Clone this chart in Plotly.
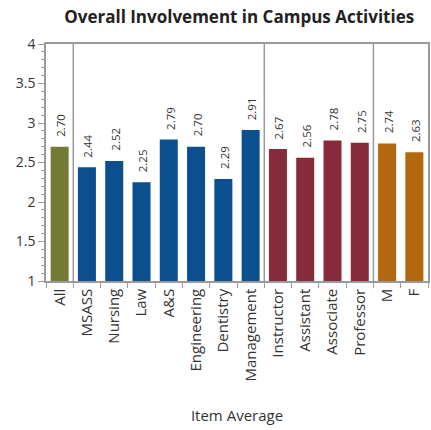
import plotly.graph_objects as go

categories = ["All", "MSASS", "Nursing", "Law", "A&S", "Engineering", "Dentistry",
              "Management", "Instructor", "Assistant", "Associate", "Professor", "M", "F"]
values = [2.70, 2.44, 2.52, 2.25, 2.79, 2.70, 2.29, 2.91, 2.67, 2.56, 2.78, 2.75, 2.74, 2.63]
groups = ["all"] + ["school"] * 7 + ["rank"] * 4 + ["gender"] * 2
group_colors = {"all": "#737b36", "school": "#0b4f8f", "rank": "#872b3b", "gender": "#b3670f"}
colors = [group_colors[g] for g in groups]
labels = [f"{v:.2f}" for v in values]

fig = go.Figure()
fig.add_trace(go.Bar(
    x=categories, y=values, marker=dict(color=colors, line=dict(width=0)),
    width=0.66, showlegend=False, hoverinfo="x+y",
))

for c, v, t in zip(categories, values, labels):
    fig.add_annotation(x=c, y=v, text=t, textangle=-90, showarrow=False,
                       yanchor="bottom", yshift=8, xshift=1,
                       font=dict(family="Open Sans", size=11.5, color="#333333"))

# group separators (between categories)
sep_positions = [0.5, 7.5, 11.5]
for s in sep_positions:
    fig.add_shape(type="line", xref="x", yref="paper", x0=s, x1=s, y0=0, y1=1,
                  line=dict(color="#9a9a9a", width=1.5))

fig.update_layout(
    width=431, height=430, autosize=False,
    margin=dict(l=46, r=1, t=44, b=149),
    paper_bgcolor="white", plot_bgcolor="white",
    title=dict(text="<b>Overall Involvement in Campus Activities</b>", x=0.555, xanchor="center",
               y=0.96, yanchor="middle",
               font=dict(family="Open Sans", size=17, color="#222222")),
    font=dict(family="Open Sans", color="#333333"),
)
fig.update_xaxes(
    type="category", showline=True, linecolor="#9a9a9a", linewidth=1.5, mirror=True,
    ticks="outside", tickson="boundaries", ticklen=5, tickcolor="#9a9a9a",
    tickangle=-90, tickfont=dict(family="Open Sans", size=15, color="#333333"),
    showgrid=False, range=[-0.5, 13.5],
    title=dict(text="Item Average", font=dict(family="Open Sans", size=15, color="#333333"), standoff=30),
)
fig.update_yaxes(
    range=[1, 4], dtick=0.5, showline=True, linecolor="#9a9a9a", linewidth=1.5, mirror=True,
    ticks="outside", ticklen=6, tickcolor="#9a9a9a",
    minor=dict(dtick=0.1, ticks="outside", ticklen=3, tickcolor="#9a9a9a"),
    tickfont=dict(family="Open Sans", size=14, color="#333333"),
    showgrid=False, zeroline=False,
)

fig.write_html("out.html", config={"displayModeBar": False},
               post_script="document.body.style.margin='0';document.body.style.overflow='hidden';")
